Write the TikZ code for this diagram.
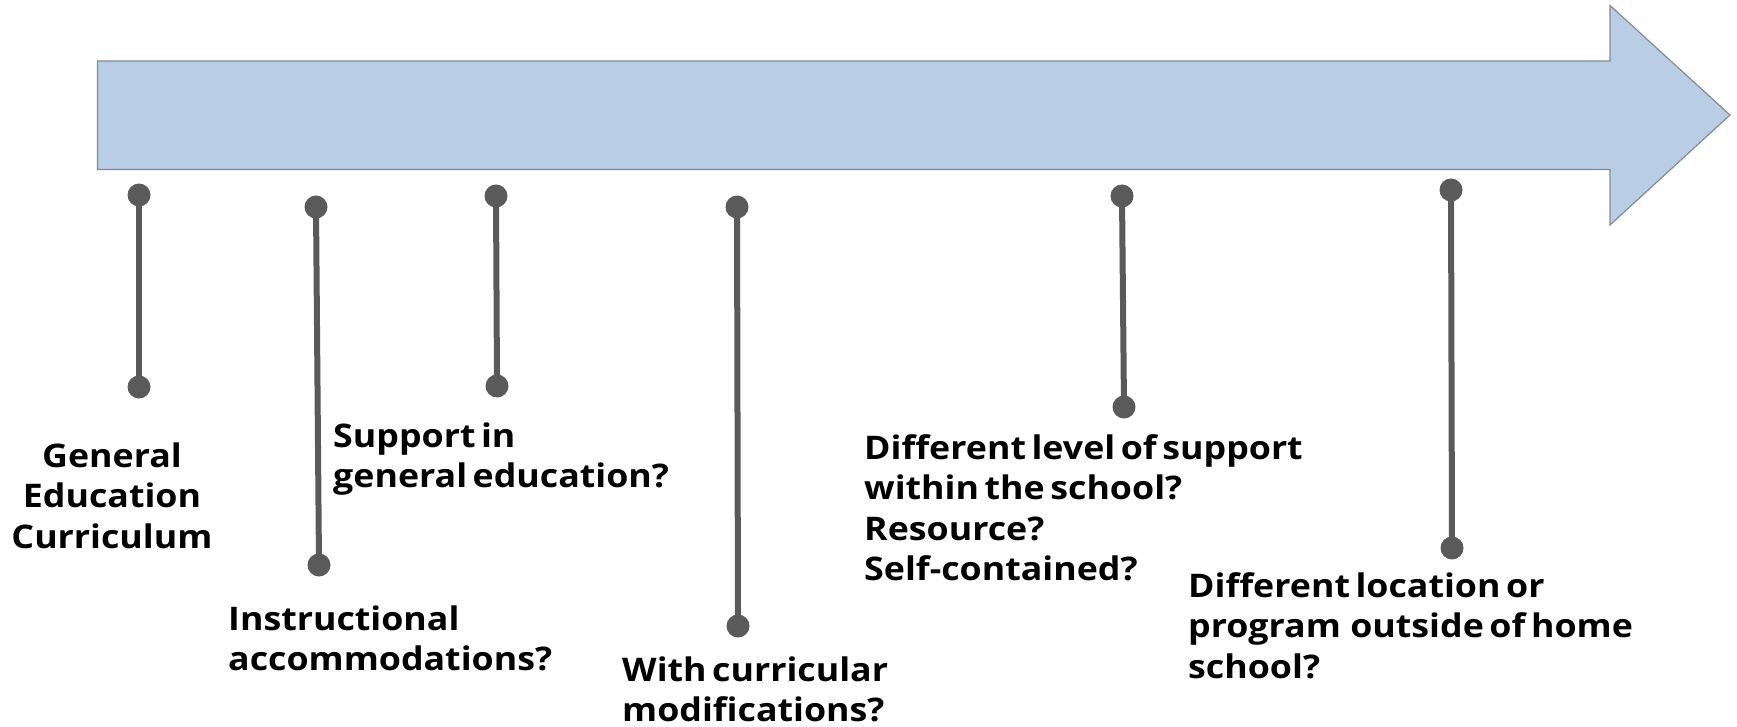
\documentclass[tikz,border=0pt]{standalone}
\usepackage{fontspec}
\setmainfont{Open Sans}[FakeStretch=1.1,WordSpace=0.6]
\begin{document}
\begin{tikzpicture}[x=1pt,y=-1pt,
  band/.style={fill=bandfill,draw=bandline,line width=1.2pt,line join=miter},
  stem/.style={draw=stemgray,line width=6pt},
  knob/.style={circle,fill=stemgray,inner sep=0pt,minimum size=23pt},
  lbl/.style={inner sep=0pt,font=\fontsize{32.5}{40.5}\selectfont\bfseries,text=black}]
\definecolor{bandfill}{RGB}{185,205,228}
\definecolor{bandline}{RGB}{128,140,156}
\definecolor{stemgray}{RGB}{90,90,90}
\useasboundingbox (0,0) rectangle (1737,727);
\fill[white] (0,0) rectangle (1737,727);
% arrow band
\draw[band] (97.5,61) -- (1610,61) -- (1610,5.5) -- (1730,115) -- (1610,225) -- (1610,169.5) -- (97.5,169.5) -- cycle;
% knobs
\node[knob] (a1) at (139,195) {};
\node[knob] (a2) at (139,387) {};
\node[knob] (b1) at (316,207) {};
\node[knob] (b2) at (319,565) {};
\node[knob] (c1) at (496,196) {};
\node[knob] (c2) at (497,386) {};
\node[knob] (d1) at (737,207) {};
\node[knob] (d2) at (738,626) {};
\node[knob] (e1) at (1122,196) {};
\node[knob] (e2) at (1124,407) {};
\node[knob] (f1) at (1451,190) {};
\node[knob] (f2) at (1452,548) {};
\draw[stem] (a1.center) -- (a2.center);
\draw[stem] (b1.center) -- (b2.center);
\draw[stem] (c1.center) -- (c2.center);
\draw[stem] (d1.center) -- (d2.center);
\draw[stem] (e1.center) -- (e2.center);
\draw[stem] (f1.center) -- (f2.center);
% labels
\node[lbl,anchor=base] (ta) at (112,467) {\begin{tabular}[t]{@{}c@{}}General\\Education\\Curriculum\end{tabular}};
\node[lbl,anchor=base west] (tc) at (333,447) {\begin{tabular}[t]{@{}l@{}}Support in\\general education?\end{tabular}};
\node[lbl,anchor=base west] (tb) at (228,630) {\begin{tabular}[t]{@{}l@{}}Instructional\\accommodations?\end{tabular}};
\node[lbl,anchor=base west] (td) at (622,681) {\begin{tabular}[t]{@{}l@{}}With curricular\\modifications?\end{tabular}};
\node[lbl,anchor=base west] (te) at (864,459) {\begin{tabular}[t]{@{}l@{}}Different level of support\\within the school?\\Resource?\\Self-contained?\end{tabular}};
\node[lbl,anchor=base west] (tf) at (1188,597) {\begin{tabular}[t]{@{}l@{}}Different location or\\program\hspace{0.12em} outside of home\\school?\end{tabular}};
\end{tikzpicture}
\end{document}
